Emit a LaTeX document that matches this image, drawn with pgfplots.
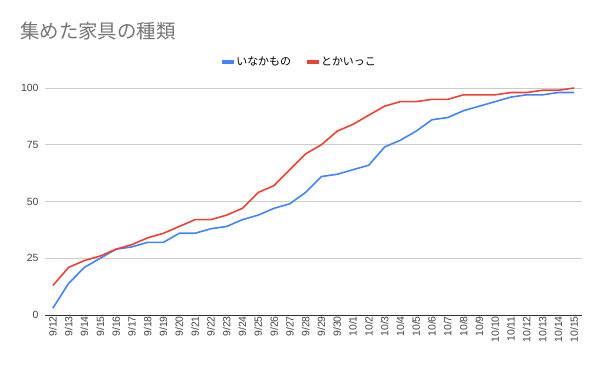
\documentclass[border=0pt]{standalone}
\usepackage{pgfplots}
\pgfplotsset{compat=1.18}
\usepackage{pgfplotstable}
\usepackage{fontspec}
\setmainfont{Liberation Sans}
\newfontfamily\cjk{Noto Sans CJK JP}
\definecolor{gblue}{HTML}{4285F4}
\definecolor{gred}{HTML}{EA4335}
\definecolor{titlegray}{HTML}{757575}
\definecolor{labgray}{HTML}{444444}
\definecolor{gridgray}{HTML}{CCCCCC}
\pgfplotstableread{
idx blue red
0 3 13
1 14 21
2 21 24
3 25 26
4 29 29
5 30 31
6 32 34
7 32 36
8 36 39
9 36 42
10 38 42
11 39 44
12 42 47
13 44 54
14 47 57
15 49 64
16 54 71
17 61 75
18 62 81
19 64 84
20 66 88
21 74 92
22 77 94
23 81 94
24 86 95
25 87 95
26 90 97
27 92 97
28 94 97
29 96 98
30 97 98
31 97 99
32 98 99
33 98 100
}\datatable
\begin{document}
\begin{tikzpicture}
\useasboundingbox (0bp,0bp) rectangle (600bp,-371bp);
\node[anchor=west, inner sep=0pt, text=titlegray, font=\cjk\fontsize{19.5}{22}\selectfont] at (20bp,-31bp) {集めた家具の種類};
\begin{axis}[
  at={(45bp,-315bp)}, anchor=south west,
  scale only axis, width=537bp, height=227bp,
  xmin=-0.5, xmax=33.5, ymin=0, ymax=100,
  ytick={0,25,50,75,100},
  xtick={0,...,33},
  xticklabels={9/12,9/13,9/14,9/15,9/16,9/17,9/18,9/19,9/20,9/21,9/22,9/23,9/24,9/25,9/26,9/27,9/28,9/29,9/30,10/1,10/2,10/3,10/4,10/5,10/6,10/7,10/8,10/9,10/10,10/11,10/12,10/13,10/14,10/15},
  /pgf/number format/assume math mode=true,
  ymajorgrids, grid style={gridgray, line width=0.8bp},
  axis x line*=bottom, axis y line*=left,
  x axis line style={draw=black!80, line width=1bp, -},
  y axis line style={draw=none},
  xtick style={draw=none}, ytick style={draw=none},
  tick label style={text=labgray, font=\fontsize{10.5}{12}\selectfont},
  x tick label style={rotate=90, anchor=east, inner sep=1bp, yshift=0bp},
  y tick label style={anchor=east, xshift=-3bp},
  legend columns=2,
  legend style={at={(0.475,1.115)}, anchor=center, draw=none, fill=none,
    font=\cjk\fontsize{11}{12}\selectfont,
    /tikz/every even column/.append style={column sep=14bp}},
  legend image code/.code={\fill[#1, draw=none] (0bp,-2bp) rectangle (12bp,2bp);},
  clip=false,
]
\addplot[gblue, line width=1.6bp, line join=round] table[x=idx, y=blue] {\datatable};
\addlegendentry{いなかもの}
\addplot[gred, line width=1.6bp, line join=round] table[x=idx, y=red] {\datatable};
\addlegendentry{とかいっこ}
\end{axis}
\end{tikzpicture}
\end{document}
